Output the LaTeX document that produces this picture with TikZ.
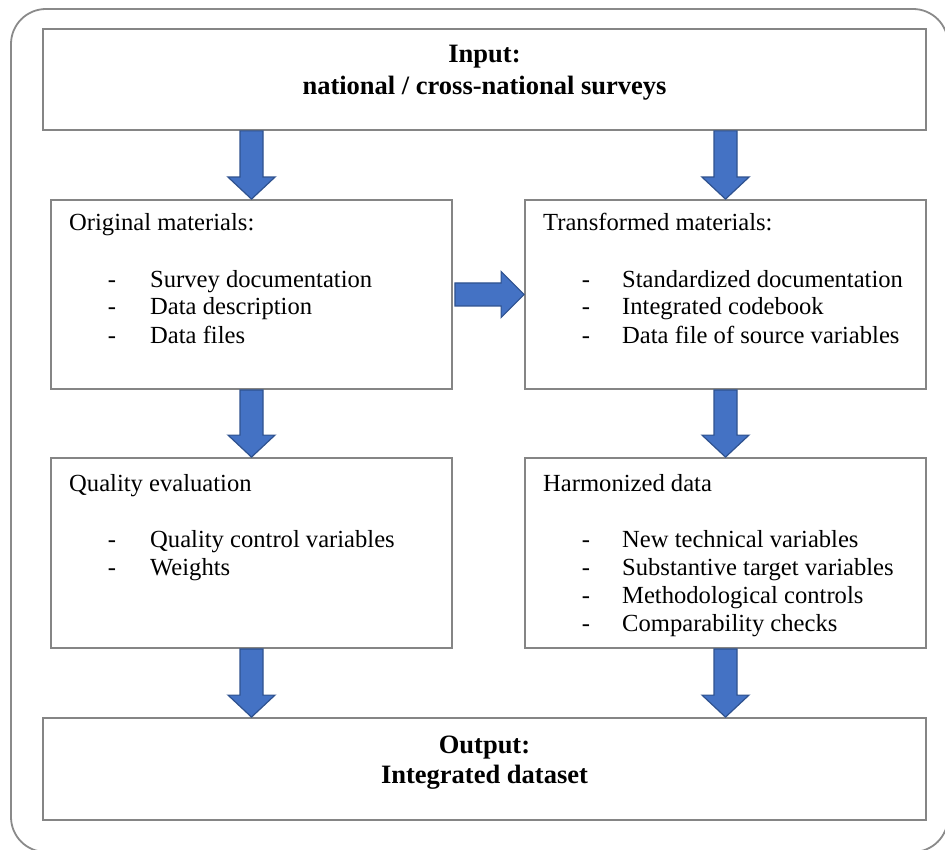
\documentclass[tikz,border=0pt]{standalone}
\usepackage{fontspec}
\setmainfont{Liberation Serif}
\usetikzlibrary{calc}

\definecolor{framegray}{HTML}{8A8A8A}
\definecolor{boxgray}{HTML}{858585}
\definecolor{arrowfill}{HTML}{4472C4}
\definecolor{arrowedge}{HTML}{2F528F}

\tikzset{
  panel/.style={draw=boxgray, line width=1.8pt, inner sep=0pt, fill=white},
  label/.style={anchor=base west, inner sep=0pt, font=\fontsize{24.6}{28}\selectfont},
  heading/.style={anchor=base, inner sep=0pt, font=\fontsize{26.5}{30}\selectfont\bfseries},
  bullet/.style={anchor=base, inner sep=0pt, font=\fontsize{24.6}{28}\selectfont},
  blockbase/.style={fill=arrowfill, draw=arrowedge, line width=1.2pt, line join=miter},
  % block arrow pointing down, from start to target (same x)
  downblock/.style={blockbase, to path={
    let \p1=(\tikztostart), \p2=(\tikztotarget) in
    (\x1-11.5pt,\y1) -- (\x1+11.5pt,\y1) -- (\x1+11.5pt,\y2+22pt)
    -- (\x1+23.5pt,\y2+22pt) -- (\x1,\y2) -- (\x1-23.5pt,\y2+22pt)
    -- (\x1-11.5pt,\y2+22pt) -- cycle}},
  % block arrow pointing right, from start to target (same y)
  rightblock/.style={blockbase, to path={
    let \p1=(\tikztostart), \p2=(\tikztotarget) in
    (\x1+2pt,\y1+11.5pt) -- (\x2-23pt,\y1+11.5pt) -- (\x2-23pt,\y1+23pt)
    -- (\x2,\y1) -- (\x2-23pt,\y1-23pt) -- (\x2-23pt,\y1-11.5pt)
    -- (\x1+2pt,\y1-11.5pt) -- cycle}},
}

\begin{document}
\begin{tikzpicture}[x=1pt, y=-1pt]
\useasboundingbox (0,0) rectangle (945,850);

% outer frame
\draw[framegray, line width=1.8pt, rounded corners=35pt] (11,9) rectangle (948,852);

% boxes
\node[panel, minimum width=883pt, minimum height=101pt] (input)  at (484.5,79.5)  {};
\node[panel, minimum width=401pt, minimum height=189pt] (orig)   at (251.5,294.5) {};
\node[panel, minimum width=401pt, minimum height=189pt] (trans)  at (725.5,294.5) {};
\node[panel, minimum width=401pt, minimum height=190pt] (qual)   at (251.5,553)   {};
\node[panel, minimum width=401pt, minimum height=190pt] (harm)   at (725.5,553)   {};
\node[panel, minimum width=883pt, minimum height=102pt] (output) at (484.5,769)   {};

% input / output texts
\node[heading] (intitle) at (484.5,63) {Input:};
\node[heading] (insub)   at (484.5,95) {national / cross-national surveys};
\node[heading] (outtitle) at (484.5,753) {Output:};
\node[heading] (outsub)   at (484.5,783) {Integrated dataset};

% original materials
\node[label] (origt) at (69,231) {Original materials:};
\node[bullet] (o1d) at (112,288) {-}; \node[label] (o1) at (150,288) {Survey documentation};
\node[bullet] (o2d) at (112,315) {-}; \node[label] (o2) at (150,315) {Data description};
\node[bullet] (o3d) at (112,343) {-}; \node[label] (o3) at (150,343) {Data files};

% transformed materials
\node[label] (transt) at (543,231) {Transformed materials:};
\node[bullet] (t1d) at (586,288) {-}; \node[label] (t1) at (622,288) {Standardized documentation};
\node[bullet] (t2d) at (586,315) {-}; \node[label] (t2) at (622,315) {Integrated codebook};
\node[bullet] (t3d) at (586,343) {-}; \node[label] (t3) at (622,343) {Data file of source variables};

% quality evaluation
\node[label] (qualt) at (69,491) {Quality evaluation};
\node[bullet] (q1d) at (112,547) {-}; \node[label] (q1) at (150,547) {Quality control variables};
\node[bullet] (q2d) at (112,575) {-}; \node[label] (q2) at (150,575) {Weights};

% harmonized data
\node[label] (harmt) at (543,491) {Harmonized data};
\node[bullet] (h1d) at (586,547) {-}; \node[label] (h1) at (622,547) {New technical variables};
\node[bullet] (h2d) at (586,575) {-}; \node[label] (h2) at (622,575) {Substantive target variables};
\node[bullet] (h3d) at (586,603) {-}; \node[label] (h3) at (622,603) {Methodological controls};
\node[bullet] (h4d) at (586,631) {-}; \node[label] (h4) at (622,631) {Comparability checks};

% flow arrows
\path[downblock] (input.south -| orig.north) to (orig.north);
\path[downblock] (input.south -| trans.north) to (trans.north);
\path[downblock] (orig.south) to (qual.north);
\path[downblock] (trans.south) to (harm.north);
\path[downblock] (qual.south) to (output.north -| qual.south);
\path[downblock] (harm.south) to (output.north -| harm.south);
\path[rightblock] (orig.east) to (trans.west);
\end{tikzpicture}
\end{document}
